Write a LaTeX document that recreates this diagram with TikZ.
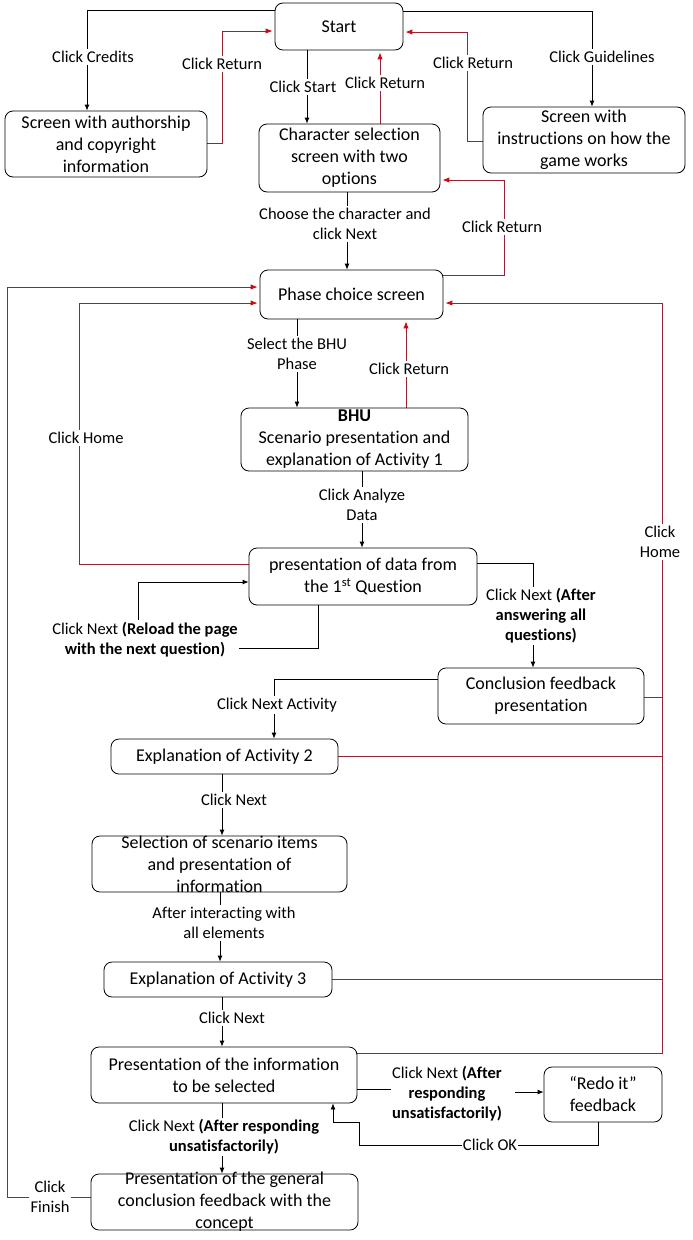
\documentclass[tikz,border=0pt]{standalone}
\usepackage{fontspec}
\setmainfont{Carlito}[Ligatures={NoCommon}]
\usetikzlibrary{arrows.meta}
\definecolor{lred}{RGB}{150,35,50}
\definecolor{tipred}{RGB}{205,10,20}
\pgfdeclarelayer{bg}
\pgfsetlayers{bg,main}
\newcommand\bx[6]{%
  \node[box, minimum width=#4pt, minimum height=#5pt] (#1) at (#2,#3) {};
  \node[btext] (#1-t) at (#1.center) {#6};}
\begin{document}
\begin{tikzpicture}[x=1pt,y=-1pt,
  box/.style={draw=black, line width=0.8pt, rounded corners=8pt, inner sep=0pt},
  btext/.style={align=center, inner sep=0pt, font=\fontsize{18}{22}\selectfont},
  lab/.style={align=center, fill=white, inner xsep=1pt, inner ysep=2pt, font=\fontsize{16.5}{20}\selectfont},
  ln/.style={draw=black, line width=0.8pt},
  arr/.style={ln, -{Latex[length=6pt,width=5pt]}},
  rln/.style={draw=lred, line width=0.9pt},
  rarr/.style={rln, -{Latex[length=7pt,width=5.5pt,color=tipred]}, shorten >=2pt}]
\useasboundingbox (0,0) rectangle (693,1240);
% boxes
\bx{start}{339}{26.5}{128}{47}{Start}
\bx{credits}{106}{144}{202}{66}{Screen with authorship\\and copyright\\information}
\bx{char}{349.5}{158}{181}{68}{Character selection\\screen with two\\options}
\bx{guide}{584}{140}{202}{66}{Screen with\\instructions on how the\\game works}
\bx{phase}{351.5}{294.5}{183}{49}{Phase choice screen}
\bx{bhu}{354.5}{439.5}{227}{63}{\textbf{BHU}\\Scenario presentation and\\explanation of Activity 1}
\bx{data}{363}{576.5}{228}{57}{presentation of data from\\the 1\textsuperscript{st} Question}
\bx{concl}{541}{696}{206}{56}{Conclusion feedback\\presentation}
\bx{act2}{224.5}{756.5}{227}{35}{Explanation of Activity 2}
\bx{sel}{219.5}{864}{255}{56}{Selection of scenario items\\and presentation of\\information}
\bx{act3}{218}{979.5}{228}{35}{Explanation of Activity 3}
\bx{pres}{224}{1075}{266}{56}{Presentation of the information\\to be selected}
\bx{redo}{603}{1094.5}{118}{55}{“Redo it”\\feedback}
\bx{final}{224.5}{1202}{267}{56}{Presentation of the general\\conclusion feedback with the\\concept}
% labels
\node[lab] (lcred) at (93,57) {Click Credits};
\node[lab] (lret1) at (222,64) {Click Return};
\node[lab] (lstart) at (303,87) {Click Start};
\node[lab] (lret2) at (385,83) {Click Return};
\node[lab] (lguide) at (602,57) {Click Guidelines};
\node[lab] (lret3) at (473,63) {Click Return};
\node[lab] (lchoose) at (345,224) {Choose the character and\\click Next};
\node[lab] (lret4) at (502,227) {Click Return};
\node[lab] (lbhu) at (297,354) {Select the BHU\\Phase};
\node[lab] (lret5) at (409,369) {Click Return};
\node[lab] (lanal) at (362,505) {Click Analyze\\Data};
\node[lab] (lhome1) at (86,438) {Click Home};
\node[lab] (lreload) at (145,640) {Click Next \textbf{(Reload the page}\\\textbf{with the next question)}};
\node[lab] (lafter) at (541,616) {Click Next \textbf{(After}\\\textbf{answering all}\\\textbf{questions)}};
\node[lab] (lnextact) at (277,705) {Click Next Activity};
\node[lab] (lhome2) at (660,542) {Click\\Home};
\node[lab] (lnext1) at (234,800) {Click Next};
\node[lab] (linter) at (224,923) {After interacting with\\all elements};
\node[lab] (lnext2) at (232,1018) {Click Next};
\node[lab] (lredo) at (447,1094) {Click Next \textbf{(After}\\\textbf{responding}\\\textbf{unsatisfactorily)}};
\node[lab] (lok) at (490,1145) {Click OK};
\node[lab] (lnext3) at (224,1137) {Click Next \textbf{(After responding}\\\textbf{unsatisfactorily)}};
\node[lab] (lfin) at (50,1197) {Click\\Finish};
% connectors
\begin{pgfonlayer}{bg}
\draw[arr] (start.west |- 0,10) -| (credits.north -| 87,0);
\draw[rarr] (credits.east |- 0,143) -| (222,31) -- (start.west |- 0,31);
\draw[arr] (start.south -| 307,0) -- (char.north -| 307,0);
\draw[rarr] (char.north -| 380,0) -- (start.south -| 380,0);
\draw[arr] (start.east |- 0,11) -| (guide.north -| 592,0);
\draw[rarr] (guide.west |- 0,141) -| (467,32) -- (start.east |- 0,32);
\draw[arr] (char.south -| 347,0) -- (phase.north -| 347,0);
\draw[rarr] (phase.east |- 0,275) -| (504,180) -- (char.east |- 0,180);
\draw[arr] (phase.south -| 297,0) -- (bhu.north -| 297,0);
\draw[rarr] (bhu.north -| 406,0) -- (phase.south -| 406,0);
\draw[arr] (bhu.south -| 362,0) -- (data.north -| 362,0);
\draw[rarr] (data.west |- 0,564) -| (79,303) -- (phase.west |- 0,303);
\draw[ln] (data.south -| 318,0) |- (lreload.east |- 0,648);
\draw[arr] (lreload.north -| 138,0) |- (data.west |- 0,582);
\draw[arr] (data.east |- 0,563) -| (concl.north -| 533,0);
\draw[arr] (concl.west |- 0,679) -| (act2.north -| 274,0);
\draw[rarr] (pres.east |- 0,1053) -| (662,303) -- (phase.east |- 0,303);
\draw[rln] (concl.east |- 0,697) -- (662,697);
\draw[rln] (act2.east) -- (662,756.5);
\draw[rln] (act3.east) -- (662,979.5);
\draw[arr] (act2.south -| 222,0) -- (sel.north -| 222,0);
\draw[arr] (sel.south -| 220,0) -- (act3.north -| 220,0);
\draw[arr] (act3.south -| 222,0) -- (pres.north -| 222,0);
\draw[ln] (pres.east |- 0,1089) -- (lredo.west |- 0,1089);
\draw[arr] ([xshift=12pt]lredo.east |- 0,1092) -- (redo.west |- 0,1092);
\draw[ln] (redo.south -| 598,0) |- (lok.east);
\draw[arr] (lok.west) -| (359,1122) -| (pres.south -| 333,0);
\draw[arr] (pres.south -| 222,0) -- (final.north -| 222,0);
\draw[rln] (final.west |- 0,1197) -- (lfin.east |- 0,1197);
\draw[rarr] (lfin.west |- 0,1197) -| (7,287) -- (phase.west |- 0,287);
\end{pgfonlayer}
\end{tikzpicture}
\end{document}
